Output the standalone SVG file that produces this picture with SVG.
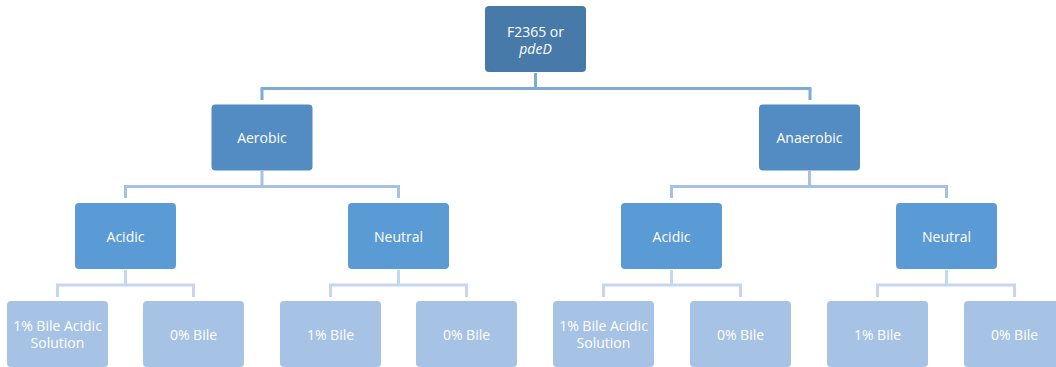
<svg xmlns="http://www.w3.org/2000/svg" width="1056" height="367" viewBox="0 0 1056 367">
<style>
text{font-family:"Open Sans","Liberation Sans",sans-serif;font-size:14px;fill:#ffffff;text-anchor:middle;dominant-baseline:central}
.l1{fill:#477aa9}
.l2{fill:#538cc2}
.l3{fill:#5b9bd5}
.l4{fill:#a6c2e4}
.c1{stroke:#7eaad9;stroke-width:3;fill:none}
.c2{stroke:#a5c1e4;stroke-width:3;fill:none}
.c3{stroke:#c5d7ee;stroke-width:3;fill:none}
</style>
<rect width="1056" height="367" fill="#ffffff"/>
<g id="connectors">
<path class="c1" d="M535.5 73V88.5M262 88.5H810M262 87V100M810 87V100"/>
<path class="c2" d="M262 171V186.5M125.5 186.5H399M125.5 185V198M398.5 185V198"/>
<path class="c2" d="M809.5 171V186.5M671.5 186.5H947M671.5 185V198M946.5 185V198"/>
<path class="c3" d="M125.5 270V285M57 285H194M57.5 283.5V297M193.5 283.5V297"/>
<path class="c3" d="M398.5 270V285M330 285H467M330.5 283.5V297M466.5 283.5V297"/>
<path class="c3" d="M671.5 270V285M603 285H741M603.5 283.5V297M740.5 283.5V297"/>
<path class="c3" d="M946.5 270V285M877 285H1015M877.5 283.5V297M1014.5 283.5V297"/>
</g>
<g id="root"><rect class="l1" x="485" y="6" width="101" height="66" rx="4"/><text x="535.5" y="31">F2365 or</text><text x="535.5" y="48" font-style="italic">pdeD</text></g>
<g id="aerobic"><rect class="l2" x="211.5" y="104.5" width="101" height="66" rx="4"/><text x="262" y="137.5">Aerobic</text></g>
<g id="anaerobic"><rect class="l2" x="759" y="104.5" width="101" height="66" rx="4"/><text x="809.5" y="137.5">Anaerobic</text></g>
<g id="acidic1"><rect class="l3" x="75" y="203" width="101" height="66" rx="4"/><text x="125.5" y="236">Acidic</text></g>
<g id="neutral1"><rect class="l3" x="348" y="203" width="101" height="66" rx="4"/><text x="398.5" y="236">Neutral</text></g>
<g id="acidic2"><rect class="l3" x="621" y="203" width="101" height="66" rx="4"/><text x="671.5" y="236">Acidic</text></g>
<g id="neutral2"><rect class="l3" x="896" y="203" width="101" height="66" rx="4"/><text x="946.5" y="236">Neutral</text></g>
<g id="b1"><rect class="l4" x="7" y="301" width="101" height="66" rx="4"/><text x="57.5" y="325">1% Bile Acidic</text><text x="57.5" y="342">Solution</text></g>
<g id="b2"><rect class="l4" x="143" y="301" width="101" height="66" rx="4"/><text x="193.5" y="334">0% Bile</text></g>
<g id="b3"><rect class="l4" x="280" y="301" width="101" height="66" rx="4"/><text x="330.5" y="334">1% Bile</text></g>
<g id="b4"><rect class="l4" x="416" y="301" width="101" height="66" rx="4"/><text x="466.5" y="334">0% Bile</text></g>
<g id="b5"><rect class="l4" x="553" y="301" width="101" height="66" rx="4"/><text x="603.5" y="325">1% Bile Acidic</text><text x="603.5" y="342">Solution</text></g>
<g id="b6"><rect class="l4" x="690" y="301" width="101" height="66" rx="4"/><text x="740.5" y="334">0% Bile</text></g>
<g id="b7"><rect class="l4" x="827" y="301" width="101" height="66" rx="4"/><text x="877.5" y="334">1% Bile</text></g>
<g id="b8"><rect class="l4" x="964" y="301" width="101" height="66" rx="4"/><text x="1014.5" y="334">0% Bile</text></g>
</svg>
